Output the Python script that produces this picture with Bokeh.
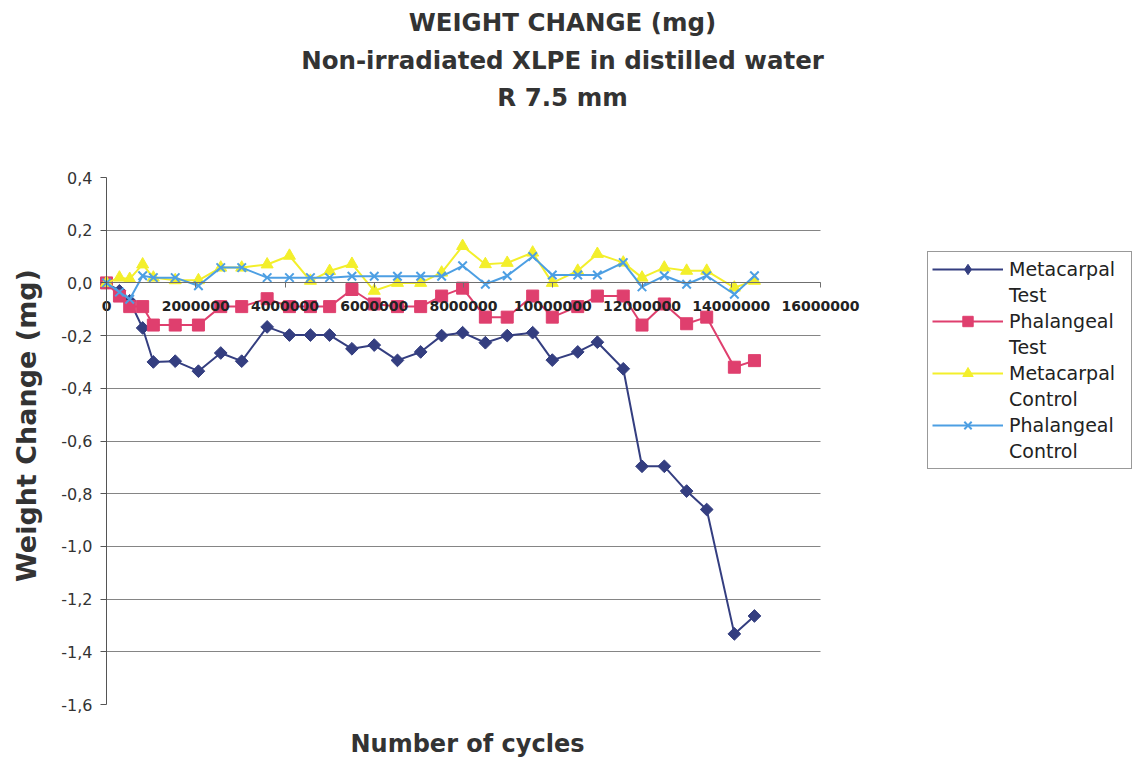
import numpy as np
from bokeh.plotting import figure
from bokeh.models import (FixedTicker, CustomJSTickFormatter, Legend, LegendItem,
                          Label, Range1d)
from bokeh.core.properties import value
from bokeh.embed import file_html
from bokeh.resources import INLINE

# ---------------- data ----------------
cycles = [0, 290000, 520000, 810000, 1050000, 1540000, 2060000, 2560000, 3030000,
          3600000, 4100000, 4570000, 5000000, 5500000, 6000000, 6520000, 7040000,
          7510000, 7980000, 8490000, 8980000, 9550000, 9990000, 10560000, 11000000,
          11580000, 12000000, 12500000, 13000000, 13450000, 14070000, 14520000]

metacarpal_test = [0, -0.03, -0.068, -0.171, -0.30, -0.297, -0.335, -0.266, -0.297,
                   -0.167, -0.198, -0.198, -0.198, -0.25, -0.236, -0.294, -0.262,
                   -0.2, -0.189, -0.227, -0.2, -0.189, -0.293, -0.262, -0.225,
                   -0.326, -0.696, -0.696, -0.79, -0.86, -1.332, -1.264]

phalangeal_test = [0, -0.05, -0.09, -0.09, -0.16, -0.16, -0.16, -0.09, -0.09,
                   -0.06, -0.09, -0.09, -0.09, -0.025, -0.08, -0.09, -0.09,
                   -0.05, -0.02, -0.13, -0.13, -0.05, -0.13, -0.09, -0.05,
                   -0.05, -0.16, -0.08, -0.155, -0.13, -0.32, -0.295]

metacarpal_control = [0, 0.02, 0.015, 0.07, 0.02, 0.01, 0.01, 0.058, 0.058,
                      0.07, 0.103, 0.008, 0.045, 0.072, -0.03, 0.0, 0.0,
                      0.039, 0.14, 0.071, 0.076, 0.115, 0.0, 0.046, 0.11,
                      0.077, 0.02, 0.058, 0.046, 0.046, -0.018, 0.008]

phalangeal_control = [0, -0.035, -0.062, 0.027, 0.02, 0.02, -0.011, 0.058, 0.058,
                      0.02, 0.02, 0.02, 0.02, 0.025, 0.025, 0.025, 0.025,
                      0.025, 0.065, -0.005, 0.027, 0.1, 0.03, 0.03, 0.03,
                      0.077, -0.015, 0.027, -0.005, 0.027, -0.043, 0.027]

series_names = [("Metacarpal", "Test"), ("Phalangeal", "Test"),
                ("Metacarpal", "Control"), ("Phalangeal", "Control")]

title_lines = ["WEIGHT CHANGE (mg)", "Non-irradiated XLPE in distilled water", "R 7.5 mm"]
x_title = "Number of cycles"
y_title = "Weight Change (mg)"

x_ticks = [0, 2000000, 4000000, 6000000, 8000000, 10000000, 12000000, 14000000, 16000000]
y_ticks = [-1.6, -1.4, -1.2, -1.0, -0.8, -0.6, -0.4, -0.2, 0.0, 0.2, 0.4]
grid_ticks = [-1.4, -1.2, -1.0, -0.8, -0.6, -0.4, -0.2, 0.0, 0.2]
x_min, x_max = 0, 16000000
y_min, y_max = -1.6, 0.4

# ---------------- layout (pixels) ----------------
W, H = 1132, 760
PX_L, PX_R = 106, 820      # plot area left / right
PX_T, PX_B = 177, 704      # plot area top / bottom
sx = (PX_R - PX_L) / (x_max - x_min)
sy = (PX_B - PX_T) / (y_max - y_min)

NAVY = "#343e80"
PINK = "#df3f6e"
YELLOW = "#f3ef2b"
BLUE = "#4d9fe3"
TXT = "#333333"

series_styles = [
    dict(color=NAVY, marker="square", angle=np.pi / 4, size=9, legend_marker="diamond", legend_size=20),
    dict(color=PINK, marker="square", angle=0.0, size=12, legend_marker=None, legend_size=None),
    dict(color=YELLOW, marker="triangle", angle=0.0, size=12, legend_marker=None, legend_size=None),
    dict(color=BLUE, marker="x", angle=0.0, size=12, legend_marker=None, legend_size=None),
]

p = figure(width=W, height=H, output_backend="svg", toolbar_location=None,
           x_range=Range1d(x_min - PX_L / sx, x_max + (W - PX_R) / sx),
           y_range=Range1d(y_min - (H - PX_B) / sy, y_max + PX_T / sy),
           min_border=0, min_border_left=0, min_border_right=0,
           min_border_top=0, min_border_bottom=0)
p.outline_line_color = None
p.background_fill_color = "white"
p.border_fill_color = "white"

# grid
p.xgrid.visible = False
yg = p.ygrid[0]
yg.ticker = FixedTicker(ticks=grid_ticks)
yg.grid_line_color = "#858585"
yg.grid_line_width = 1
if "cross_bounds" in yg.properties():
    yg.cross_bounds = (x_min, x_max)

# x axis crossing at y = 0
xa = p.xaxis[0]
xa.fixed_location = 0
xa.bounds = (x_min, x_max)
xa.ticker = FixedTicker(ticks=x_ticks)
xa.formatter = CustomJSTickFormatter(code="return tick.toFixed(0);")
xa.axis_line_color = "#6f6f6f"
xa.major_tick_line_color = "#6f6f6f"
xa.major_tick_out = 5
xa.major_tick_in = 0
xa.minor_tick_line_color = None
xa.major_label_standoff = 13
xa.major_label_text_font = "DejaVu Sans"
xa.major_label_text_font_style = "bold"
xa.major_label_text_font_size = "14px"
xa.major_label_text_color = "#222222"

# y axis at x = 0
ya = p.yaxis[0]
ya.fixed_location = 0
ya.bounds = (y_min, y_max)
ya.ticker = FixedTicker(ticks=y_ticks)
ya.formatter = CustomJSTickFormatter(
    code="if (Math.abs(tick) < 1e-9) { return '0,0'; } return tick.toFixed(1).replace('.', ',');")
ya.axis_line_color = "#555555"
ya.major_tick_line_color = "#555555"
ya.major_tick_out = 6
ya.major_tick_in = 0
ya.minor_tick_line_color = None
ya.major_label_standoff = 8
ya.major_label_text_font = "DejaVu Sans"
ya.major_label_text_font_size = "16px"
ya.major_label_text_color = TXT

# ---------------- series ----------------
all_series = [metacarpal_test, phalangeal_test, metacarpal_control, phalangeal_control]
items = []
for ys, st, (first, second) in zip(all_series, series_styles, series_names):
    rl = p.line(cycles, ys, line_color=st["color"], line_width=2)
    if st["marker"] == "x":
        rm = p.scatter(cycles, ys, marker="x", size=st["size"], line_color=st["color"],
                       line_width=2)
    else:
        rm = p.scatter(cycles, ys, marker=st["marker"], angle=st["angle"], size=st["size"],
                       fill_color=st["color"], line_color=st["color"])
    legend_rs = [rl, rm]
    if st["legend_marker"] is not None:
        # same series as diamond glyph (hidden) so the legend swatch shows a diamond
        rh = p.scatter(cycles, ys, marker=st["legend_marker"], size=st["legend_size"],
                       fill_color=st["color"], line_color=st["color"], visible=False)
        legend_rs = [rl, rh]
    items.append(LegendItem(label=value(first), renderers=legend_rs))
    items.append(LegendItem(label=value(second), renderers=[]))

legend = Legend(items=items, location=(927, H - 469), orientation="vertical",
                glyph_width=71, glyph_height=26, label_standoff=6, label_width=118,
                label_height=20, padding=4, spacing=0, margin=0,
                border_line_color="#333333", border_line_width=1,
                background_fill_color="white",
                label_text_font="DejaVu Sans", label_text_font_size="19px",
                label_text_color="#222222")
p.add_layout(legend)

# ---------------- titles ----------------
for txt, fy in zip(title_lines, [22, 60, 97]):
    p.add_layout(Label(x=562, y=H - fy, x_units="screen", y_units="screen",
                       text=txt, text_align="center", text_baseline="middle",
                       text_font="DejaVu Sans", text_font_style="bold",
                       text_font_size="24.5px", text_color=TXT))

p.add_layout(Label(x=467, y=H - 743, x_units="screen", y_units="screen",
                   text=x_title, text_align="center", text_baseline="middle",
                   text_font="DejaVu Sans", text_font_style="bold",
                   text_font_size="24px", text_color=TXT))

p.add_layout(Label(x=26, y=H - 425, x_units="screen", y_units="screen",
                   text=y_title, angle=np.pi / 2, text_align="center",
                   text_baseline="middle", text_font="DejaVu Sans",
                   text_font_style="bold", text_font_size="27px", text_color=TXT))

open("out.html", "w").write(file_html(p, INLINE))
